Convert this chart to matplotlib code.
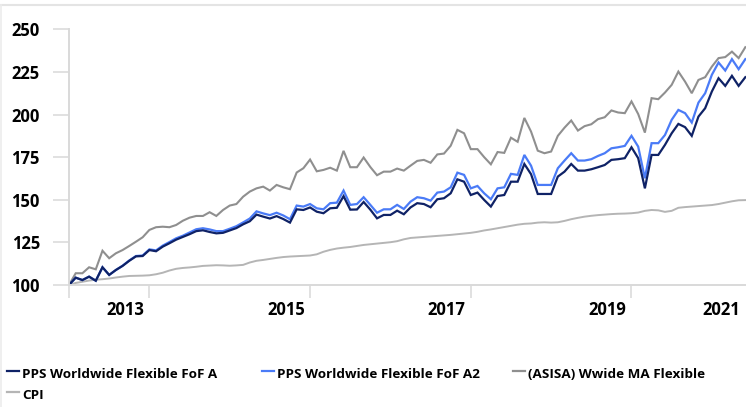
import numpy as np
import matplotlib
matplotlib.use("Agg")
import matplotlib.pyplot as plt
from matplotlib.lines import Line2D

plt.rcParams['font.family'] = ['Open Sans', 'DejaVu Sans']

series_names = ["PPS Worldwide Flexible FoF A", "PPS Worldwide Flexible FoF A2",
                "(ASISA) Wwide MA Flexible", "CPI"]

fund_a = [100, 104.3, 102.9, 104.9, 102.5, 110.4, 105.9, 108.8, 111.2, 114.2,
          116.8, 117, 120.5, 119.8, 122.5, 124.5, 126.6, 128.2, 129.8, 131.6,
          132.1, 131.1, 130.3, 130.6, 132, 133.4, 135.6, 137.4, 141.3, 140.1,
          139, 140.4, 138.7, 136.6, 144.4, 144, 145.5, 143, 142.1, 145,
          145.3, 152.1, 144.2, 144.3, 148.7, 144.2, 139.1, 141.1, 141.1, 143.6,
          141.5, 145.5, 148, 147.5, 145.6, 150.3, 150.9, 153.8, 162, 160.6,
          152.8, 154.2, 149.9, 146, 152.2, 152.8, 160.6, 160.6, 171, 165,
          153.4, 153.4, 153.4, 163.6, 166.5, 171, 167.1, 167.1, 167.9, 169.1,
          170.4, 173.4, 173.8, 174.4, 180.8, 174.4, 156.7, 176.3, 176.3, 182.2,
          189, 194.5, 192.6, 187.5, 198.8, 203.7, 213.5, 221.3, 216.8, 222.7,
          216.8, 221.9]

fund_a2 = [100, 104.3, 102.9, 104.9, 102.5, 110.4, 105.9, 108.8, 111.3, 114.4,
           117, 117.3, 120.9, 120.3, 123.1, 125.2, 127.4, 128.9, 130.8, 132.7,
           133.3, 132.6, 131.6, 131.6, 133, 134.5, 136.7, 139, 143.2, 142,
           141, 142.4, 140.8, 138.6, 146.6, 146, 147.5, 145, 144.4, 148,
           148.3, 155.4, 147, 147.5, 151.5, 147, 142.4, 144.4, 144.4, 147,
           144.6, 148.9, 151.5, 150.9, 149.5, 154.2, 154.8, 157.3, 165.9, 164.6,
           156.7, 158.1, 153.8, 150.3, 156.7, 157.3, 165.2, 164.6, 176.3, 170,
           158.7, 158.7, 158.7, 168.5, 173, 177.3, 173, 173, 173.8, 175.7,
           177.3, 180.2, 180.8, 181.6, 187.5, 181.2, 162.6, 183.2, 183.2, 188,
           196.9, 202.7, 200.8, 195.3, 207, 212.5, 223.3, 230.5, 225.8, 232.5,
           226.6, 232.5]

sector = [100, 106.9, 106.9, 110.4, 109.2, 120.1, 115.7, 118.6, 120.5, 122.9,
          125.4, 128, 132.3, 133.9, 134.2, 133.9, 135.2, 137.7, 139.5, 140.5,
          140.5, 142.7, 140.5, 144, 146.6, 147.5, 151.8, 154.8, 156.7, 157.7,
          155.4, 158.7, 157.3, 156.2, 166, 168.5, 173.6, 166.7, 167.5, 168.8,
          167.1, 178.7, 169.1, 169.1, 174.8, 169.2, 164.4, 166.5, 166.5, 168.3,
          167.1, 170, 172.8, 173.4, 171.7, 176.6, 177.1, 181.7, 191, 189,
          179.7, 179.7, 175, 170.8, 178, 177.5, 186.4, 184, 198, 190,
          178.8, 177.3, 178.3, 187.5, 192.3, 196.5, 190.6, 193.2, 194.3, 197.3,
          198.4, 202.4, 201.2, 200.8, 207.7, 200.3, 189.4, 209.6, 209, 212.9,
          217.4, 225.2, 219.3, 212.5, 220.3, 221.9, 228.1, 233.1, 233.7, 236.9,
          233.1, 239.5]

cpi = [100, 101.2, 101.9, 102.6, 103.1, 103.4, 103.8, 104.4, 104.9, 105.3,
       105.4, 105.5, 105.7, 106.3, 107.2, 108.5, 109.5, 110.0, 110.3, 110.7,
       111.2, 111.4, 111.6, 111.5, 111.3, 111.5, 111.8, 113.2, 114.2, 114.7,
       115.3, 115.9, 116.4, 116.7, 116.9, 117.1, 117.3, 118.0, 119.5, 120.6,
       121.4, 121.9, 122.3, 122.9, 123.5, 123.9, 124.3, 124.7, 125.1, 125.7,
       126.8, 127.6, 127.9, 128.2, 128.5, 128.8, 129.1, 129.4, 129.8, 130.2,
       130.6, 131.2, 132.0, 132.6, 133.3, 134.0, 134.7, 135.4, 135.9, 136.1,
       136.6, 136.8, 136.6, 136.8, 137.6, 138.6, 139.4, 140.1, 140.6, 141.0,
       141.3, 141.6, 141.8, 141.9, 142.1, 142.5, 143.5, 144.0, 143.8, 142.9,
       143.5, 145.3, 145.7, 146.0, 146.3, 146.6, 146.9, 147.5, 148.3, 149.1,
       149.7, 149.8]

year_labels = ["2013", "2015", "2017", "2019", "2021"]
year_label_pos = [8.4, 32.4, 56.4, 80.4, 97.4]
year_tick_pos = [0, 12, 36, 60, 84]
y_ticks = [100, 125, 150, 175, 200, 225, 250]

colors = ["#0f2266", "#4a7bf7", "#8f8f8f", "#b5b5b5"]
axis_grey = "#d9d9d9"

W, H = 746, 407
fig = plt.figure(figsize=(W / 100, H / 100), dpi=100)
ax = fig.add_axes([69 / W, 122 / H, 677 / W, 255.7 / H])

x = np.arange(len(fund_a))
ax.plot(x, cpi, color=colors[3], lw=1.4, solid_joinstyle='miter')
ax.plot(x, sector, color=colors[2], lw=1.5, solid_joinstyle='miter')
ax.plot(x, fund_a2, color=colors[1], lw=1.6, solid_joinstyle='miter')
ax.plot(x, fund_a, color=colors[0], lw=1.6, solid_joinstyle='miter')

ax.set_xlim(0, 101.1)
ax.set_ylim(100, 250)

for s in ["top", "right"]:
    ax.spines[s].set_visible(False)
for s in ["left", "bottom"]:
    ax.spines[s].set_color(axis_grey)
    ax.spines[s].set_linewidth(1.4)

ax.set_yticks(y_ticks)
ax.set_yticklabels([str(v) for v in y_ticks], fontsize=12, fontweight='bold')
ax.tick_params(axis='y', length=11.5, width=1.1, color=axis_grey, pad=9.5)

ax.set_xticks(year_tick_pos)
ax.set_xticklabels([])
ax.tick_params(axis='x', which='major', length=9.4, width=1.1, color=axis_grey)
ax.set_xticks(year_label_pos, minor=True)
ax.set_xticklabels(year_labels, minor=True, fontsize=12, fontweight='bold')
ax.tick_params(axis='x', which='minor', length=0, pad=11.5)

# frame lines at the top and left edge of the picture
fig.add_artist(Line2D([0, 1], [1 - 5 / H, 1 - 5 / H], transform=fig.transFigure,
                      color="#e4e4e4", lw=1.5))
fig.add_artist(Line2D([1 / W, 1 / W], [0, 1 - 5 / H], transform=fig.transFigure,
                      color="#ececec", lw=1.2))

# legend (row-major layout like the original)
legend_pos = [(7, 374.5), (262, 374.5), (513, 374.5), (7, 395.5)]
for name, col, (px, py) in zip(series_names, colors, legend_pos):
    fig.add_artist(Line2D([px / W, (px + 12) / W], [1 - (py - 4) / H] * 2,
                          transform=fig.transFigure, color=col, lw=1.6))
    fig.text((px + 15) / W, 1 - py / H, name, fontsize=9.7, fontweight='bold',
             va='center', ha='left', color='#000000')

fig.savefig("out.png", dpi=100)
